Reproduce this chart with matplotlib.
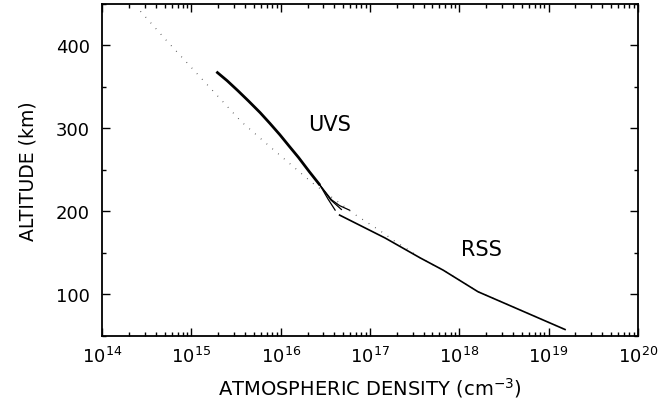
import matplotlib
matplotlib.use("Agg")
import matplotlib.pyplot as plt
import numpy as np
from matplotlib.ticker import LogLocator, MultipleLocator, FixedLocator

plt.rcParams["font.family"] = ["DejaVu Sans"]
plt.rcParams["mathtext.fontset"] = "dejavusans"

# log10 density (cm^-3) vs altitude (km)
model_logn = [14.43, 14.72, 15.14, 15.56, 15.88, 16.25, 16.36, 16.85, 17.11, 17.28, 17.45,
              17.56, 17.82, 18.21, 19.185]
model_alt = [441, 406, 357, 308, 278, 244, 234, 195, 177, 164, 152.5,
             144.2, 129.3, 103.3, 57.8]

uvs_logn = [15.28, 15.40, 15.52, 15.64, 15.77, 15.88, 15.99, 16.10, 16.20, 16.32, 16.44]
uvs_alt = [368.3, 357.5, 345.5, 333, 319, 306, 292.5, 278, 265, 248, 231.7]
# spread of the UVS retrievals near the bottom of the profile
uvs_tail_logn = [[16.44, 16.53, 16.61],
                 [16.44, 16.56, 16.68],
                 [16.44, 16.57, 16.66, 16.77]]
uvs_tail_alt = [[231.7, 215, 201.6],
                [231.7, 214, 202.4],
                [231.7, 214, 207, 201.6]]

rss_logn = [16.66, 17.17, 17.56, 17.82, 18.21, 19.185]
rss_alt = [195.6, 168, 144.2, 129.3, 103.3, 57.8]

decades = list(range(14, 21))

fig = plt.figure(figsize=(6.63, 4.06), dpi=100)
ax = fig.add_axes([0.154, 0.170, 0.808, 0.818])

ax.plot(10 ** np.array(model_logn), model_alt, linestyle=(0, (0.6, 5.5)),
        color="#444444", linewidth=0.9)
ax.plot(10 ** np.array(uvs_logn), uvs_alt, color="black", linewidth=2.0,
        solid_capstyle="butt")
for xs, ys in zip(uvs_tail_logn, uvs_tail_alt):
    ax.plot(10 ** np.array(xs), ys, color="black", linewidth=0.9)
ax.plot(10 ** np.array(rss_logn), rss_alt, color="black", linewidth=1.2)

ax.text(10 ** 16.55, 305, "UVS", fontsize=15, ha="center", va="center")
ax.text(10 ** 18.25, 155, "RSS", fontsize=15, ha="center", va="center")

ax.set_xscale("log")
ax.set_xlim(1e14, 1e20)
ax.set_ylim(50, 450)
ax.xaxis.set_major_locator(FixedLocator([10.0 ** k for k in decades]))
ax.xaxis.set_minor_locator(LogLocator(base=10, subs=np.arange(2, 10), numticks=20))
ax.yaxis.set_major_locator(MultipleLocator(100))
ax.yaxis.set_minor_locator(MultipleLocator(50))
ax.set_xticklabels([f"$\\mathregular{{10^{{{k}}}}}$" for k in decades])

ax.tick_params(which="both", direction="in", top=True, right=True, labelsize=13, width=1.0)
ax.tick_params(which="major", length=6)
ax.tick_params(axis="x", which="major", pad=7)
ax.tick_params(axis="y", which="major", pad=9)
ax.tick_params(which="minor", length=3)
for s in ax.spines.values():
    s.set_linewidth(1.3)

ax.set_xlabel("ATMOSPHERIC DENSITY (cm$^{-3}$)", fontsize=14, labelpad=7)
ax.set_ylabel("ALTITUDE (km)", fontsize=13.5, labelpad=13)

fig.savefig("out.png", dpi=100)
